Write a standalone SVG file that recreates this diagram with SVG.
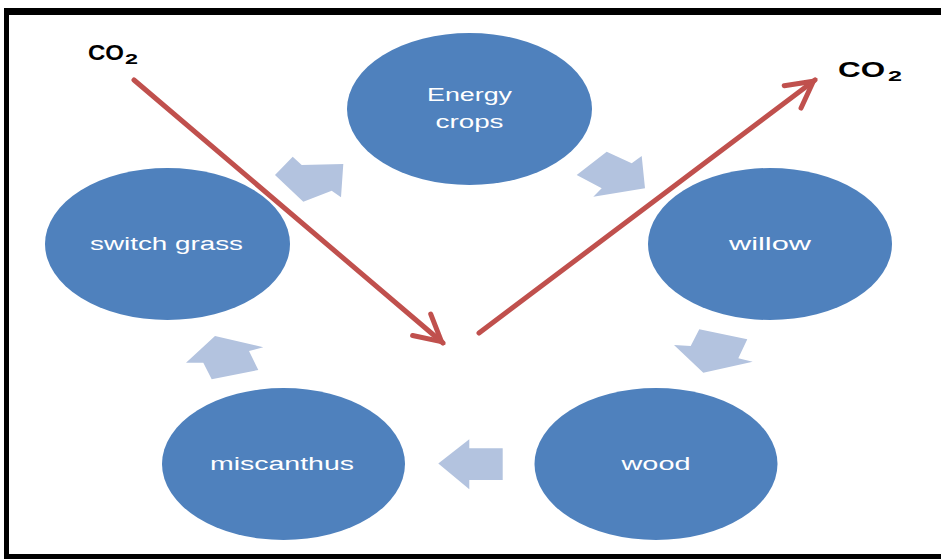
<svg xmlns="http://www.w3.org/2000/svg" width="941" height="559" viewBox="0 0 941 559">
  <style>
    .node { fill: #4F81BD; }
    .label { font-family: "Liberation Sans", Arial, sans-serif; font-size: 18px; fill: #FFFFFF; text-anchor: middle; }
    .flow { fill: #B3C3DF; }
    .co2 { font-family: "Liberation Sans", Arial, sans-serif; font-weight: bold; fill: #000000; }
    .carbon { stroke: #C0504D; stroke-width: 5; fill: none; stroke-linecap: round; }
  </style>
  <defs>
    <marker id="openHead" markerUnits="userSpaceOnUse" viewBox="-40 -20 44 40" refX="0" refY="0" markerWidth="44" markerHeight="40" orient="auto" overflow="visible">
      <path d="M -28 -14 L -2 0 L -28 14" fill="none" stroke="#C0504D" stroke-width="5" stroke-linejoin="miter" stroke-linecap="round"/>
    </marker>
  </defs>

  <!-- page background and frame -->
  <rect x="0" y="0" width="941" height="559" fill="#FFFFFF"/>
  <g id="frame" fill="#000000">
    <rect x="4" y="8" width="937" height="7"/>
    <rect x="4" y="8" width="5" height="551"/>
    <rect x="4" y="554" width="937" height="5"/>
  </g>

  <!-- cycle nodes -->
  <g id="node-energy-crops">
    <ellipse class="node" cx="469.5" cy="109" rx="122.5" ry="76"/>
    <text class="label" x="469.5" y="101" textLength="85" lengthAdjust="spacingAndGlyphs">Energy</text>
    <text class="label" x="469.5" y="128" textLength="68" lengthAdjust="spacingAndGlyphs">crops</text>
  </g>
  <g id="node-willow">
    <ellipse class="node" cx="770" cy="244" rx="122" ry="76"/>
    <text class="label" x="770" y="250" textLength="82" lengthAdjust="spacingAndGlyphs">willow</text>
  </g>
  <g id="node-wood">
    <ellipse class="node" cx="656" cy="464" rx="121.5" ry="76"/>
    <text class="label" x="656" y="470" textLength="69" lengthAdjust="spacingAndGlyphs">wood</text>
  </g>
  <g id="node-miscanthus">
    <ellipse class="node" cx="283.5" cy="464" rx="121.5" ry="76"/>
    <text class="label" x="282" y="470" textLength="144" lengthAdjust="spacingAndGlyphs">miscanthus</text>
  </g>
  <g id="node-switch-grass">
    <ellipse class="node" cx="167.5" cy="244" rx="122.5" ry="76"/>
    <text class="label" x="166.5" y="250" textLength="153" lengthAdjust="spacingAndGlyphs">switch grass</text>
  </g>

  <!-- cycle arrows between nodes -->
  <g id="connectors">
    <polygon class="flow" points="275,175 292.7,156.7 301.7,165 343.3,164 341,197.3 331.7,190.7 303.3,201.7"/>
    <polygon class="flow" points="606.7,151.7 631.7,163.3 641.7,156 645,188.3 593.3,196.7 601.7,188.3 576.7,175"/>
    <polygon class="flow" points="699.3,329.3 747.3,339.3 738.3,358.3 752.7,361.7 703.3,372.7 674,345 690.7,346"/>
    <polygon class="flow" points="438.3,463.5 469.3,439.3 469.3,448.3 502.7,448.3 502.7,480 469.3,480 469.3,489.3"/>
    <polygon class="flow" points="215,336 263.3,347.3 249,351 258.3,370 211.7,379.3 203.3,362.7 186,362.7"/>

    <!-- carbon uptake and release -->
    <path class="carbon" d="M 134 80 L 443 343" marker-end="url(#openHead)"/>
    <path class="carbon" d="M 479 333 L 815 80" marker-end="url(#openHead)"/>
  </g>

  <!-- CO2 labels -->
  <g id="label-co2-in">
    <text class="co2" x="88" y="60" font-size="22" textLength="36" lengthAdjust="spacingAndGlyphs">CO</text>
    <text class="co2" x="125" y="64" font-size="15" textLength="13" lengthAdjust="spacingAndGlyphs">2</text>
  </g>
  <g id="label-co2-out">
    <text class="co2" x="838" y="77" font-size="22" textLength="47" lengthAdjust="spacingAndGlyphs">CO</text>
    <text class="co2" x="888" y="81" font-size="15" textLength="14" lengthAdjust="spacingAndGlyphs">2</text>
  </g>
</svg>
